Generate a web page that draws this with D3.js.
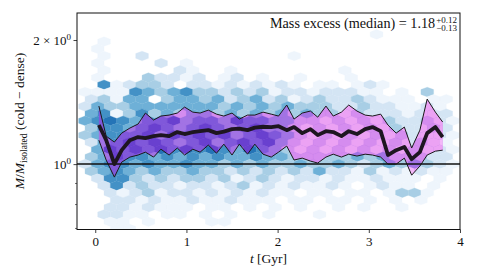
<!DOCTYPE html>
<html>
<head>
<meta charset="utf-8">
<script src="https://cdn.jsdelivr.net/npm/d3@7"></script>
<style>
  body { margin: 0; background: #fff; }
</style>
</head>
<body>
<svg id="chart" width="485" height="277"></svg>
<script>
// snapshot times [Gyr] and mass ratio percentiles
const times = [0.04, 0.12, 0.21, 0.29, 0.38, 0.47, 0.55, 0.64, 0.72, 0.81, 0.90, 0.98, 1.07, 1.15, 1.24,
  1.33, 1.41, 1.50, 1.58, 1.67, 1.75, 1.84, 1.93, 2.01, 2.10, 2.18, 2.27, 2.36, 2.44, 2.53,
  2.61, 2.70, 2.78, 2.87, 2.96, 3.04, 3.13, 3.21, 3.30, 3.39, 3.47, 3.56, 3.64, 3.73, 3.81];
const median = [1.244, 1.143, 1.000, 1.081, 1.143, 1.163, 1.156, 1.169, 1.176, 1.169,
  1.196, 1.183, 1.196, 1.202, 1.209, 1.189, 1.199, 1.216, 1.219, 1.209,
  1.226, 1.232, 1.230, 1.236, 1.209, 1.230, 1.189, 1.216, 1.176, 1.202,
  1.196, 1.169, 1.202, 1.183, 1.216, 1.230, 1.202, 1.052, 1.081, 1.100,
  1.028, 1.069, 1.189, 1.230, 1.163];
const upper = [1.383, 1.169, 1.131, 1.189, 1.223, 1.251, 1.330, 1.279, 1.308, 1.315,
  1.330, 1.375, 1.337, 1.330, 1.352, 1.322, 1.308, 1.330, 1.286, 1.315,
  1.315, 1.337, 1.322, 1.308, 1.391, 1.286, 1.330, 1.345, 1.300, 1.383,
  1.308, 1.337, 1.391, 1.345, 1.315, 1.308, 1.322, 1.244, 1.189, 1.230,
  1.094, 1.209, 1.438, 1.337, 1.265];
const lower = [1.143, 1.023, 0.930, 1.011, 1.040, 1.052, 1.069, 1.040, 1.087, 1.052,
  1.094, 1.052, 1.087, 1.069, 1.112, 1.063, 1.118, 1.052, 1.118, 1.057,
  1.118, 1.057, 1.040, 1.069, 1.106, 1.023, 1.034, 1.017, 1.006, 1.040,
  1.057, 1.040, 1.057, 1.046, 1.057, 1.052, 1.040, 1.000, 1.000, 1.034,
  0.940, 0.989, 1.052, 1.075, 1.081];

const xTicks = [0, 1, 2, 3, 4];
const yMajor = [1, 2];
const yMinor = [0.7, 0.8, 0.9];

// hexbin counts (levels 0-6), one string per row of hexagons, top row first
const hexGrid = { t0: -0.112, dt: 0.139, log0: 0.3148, dlog: 0.01748 };
const hexRows = [
  "000000000000000000000001000000",
  "01000000000000000000000000000",
  "010000000000000000000000000000",
  "01002000000000001000000000000",
  "010000201000000000000000000000",
  "01000002100100000000100000000",
  "010003221201201001000100000000",
  "05123320221212121011012100000",
  "111154345332323122122211010300",
  "23144034434234231232232111011",
  "243344444443434343332232211210",
  "45135343443434343433232221222",
  "456545564554655443323232322321",
  "35545654565456443232323232232",
  "345556465656456543232323232221",
  "24565654564565643232323232321",
  "046565656565465432323232323221",
  "34655454545445443333343433322",
  "245545445443434334334323434321",
  "34543433433232323242213121211",
  "025532323323123212212112111010",
  "02523221221231212112101211010",
  "002123122121212110110110133100",
  "00221211211211101101101010100",
  "002212111011010101001010010000",
  "02211011010100100010000000000",
  "001101000011000000000000000000",
  "00110000000000000000000000000"
];

const blues = ["#ffffff", "#eef5fc", "#d4e5f4", "#a8cee5", "#6eb0d7", "#4391c6", "#2474b7"];
const purples = ["#ffffff", "#f4b8f8", "#eca2f4", "#d58cef", "#a273e4", "#8058da", "#6940cf"];
const serif = "'Liberation Serif', 'DejaVu Serif', serif";

const svg = d3.select("#chart");
const x = d3.scaleLinear().domain([-0.2, 4.0]).range([77, 460]);
const y = d3.scaleLog().domain([0.694, 2.326]).range([229.5, 13]);

const defs = svg.append("defs");
defs.append("clipPath").attr("id", "plotClip")
  .append("rect").attr("x", 77).attr("y", 13).attr("width", 383).attr("height", 216.5);

const band = times.map((t, i) => ({ t: t, lo: lower[i], hi: upper[i], med: median[i] }));
const area = d3.area().x(d => x(d.t)).y0(d => y(d.lo)).y1(d => y(d.hi));
defs.append("clipPath").attr("id", "bandClip")
  .append("path").attr("d", area(band));

// build hex cells
const cells = [];
hexRows.forEach((row, r) => {
  const off = r % 2 ? hexGrid.dt / 2 : 0;
  row.split("").forEach((ch, c) => {
    const lvl = +ch;
    if (!lvl) return;
    cells.push({ t: hexGrid.t0 + off + c * hexGrid.dt, lg: hexGrid.log0 - r * hexGrid.dlog, lvl: lvl });
  });
});

const hexShape = [[0.5, -0.5], [0.5, 0.5], [0, 1], [-0.5, 0.5], [-0.5, -0.5], [0, -1]];
function hexPath(d) {
  return "M" + hexShape.map(([a, b]) =>
    [x(d.t + a * hexGrid.dt), y(Math.pow(10, d.lg + b * hexGrid.dlog * 2 / 3))].join(",")
  ).join("L") + "Z";
}

const plot = svg.append("g").attr("clip-path", "url(#plotClip)");

// background hexbin
plot.append("g").selectAll("path")
  .data(cells)
  .enter().append("path")
  .attr("d", hexPath)
  .attr("fill", d => blues[d.lvl])
  .attr("stroke", d => blues[d.lvl])
  .attr("stroke-width", 0.3);

// percentile band filled with purple hexes
const bandG = plot.append("g").attr("clip-path", "url(#bandClip)");
bandG.append("path").attr("d", area(band)).attr("fill", "#a576e4");
bandG.append("g").selectAll("path")
  .data(cells)
  .enter().append("path")
  .attr("d", hexPath)
  .attr("fill", d => purples[d.lvl])
  .attr("stroke", d => purples[d.lvl])
  .attr("stroke-width", 0.3);

const edge = key => d3.line().x(d => x(d.t)).y(d => y(d[key]));
plot.append("path").attr("d", edge("hi")(band))
  .attr("fill", "none").attr("stroke", "#1a1a1a").attr("stroke-width", 1);
plot.append("path").attr("d", edge("lo")(band))
  .attr("fill", "none").attr("stroke", "#1a1a1a").attr("stroke-width", 1);

// reference line at unity
plot.append("line")
  .attr("x1", 77).attr("x2", 460)
  .attr("y1", y(1)).attr("y2", y(1))
  .attr("stroke", "#111").attr("stroke-width", 1.5);

plot.append("path").attr("d", edge("med")(band))
  .attr("fill", "none").attr("stroke", "#1e1620").attr("stroke-width", 3.8)
  .attr("stroke-linejoin", "round");

// axes
const xAxis = svg.append("g")
  .attr("transform", "translate(0,229.5)")
  .call(d3.axisBottom(x).tickValues(xTicks).tickSize(3.5).tickPadding(4).tickFormat(d3.format("d")));
xAxis.select(".domain").remove();
xAxis.selectAll("line").attr("stroke", "#111").attr("stroke-width", 0.8);
xAxis.selectAll("text").attr("font-size", 13).attr("font-family", serif).attr("fill", "#111");

const yAxis = svg.append("g").attr("transform", "translate(77,0)")
  .call(d3.axisLeft(y).tickValues(yMajor).tickSize(3.5).tickFormat(""));
yAxis.select(".domain").remove();
yAxis.selectAll("line").attr("stroke", "#111").attr("stroke-width", 0.8);
const yMinorAxis = svg.append("g").attr("transform", "translate(77,0)")
  .call(d3.axisLeft(y).tickValues(yMinor).tickSize(2).tickFormat(""));
yMinorAxis.select(".domain").remove();
yMinorAxis.selectAll("line").attr("stroke", "#111").attr("stroke-width", 0.6);

// y tick labels with exponents
yMajor.forEach(v => {
  const t = svg.append("text")
    .attr("x", 71).attr("y", y(v) + 4.5)
    .attr("text-anchor", "end")
    .attr("font-family", serif).attr("font-size", 13).attr("fill", "#111");
  t.append("tspan").text(v === 1 ? "10" : "2 \u00d7 10");
  t.append("tspan").attr("dy", -5).attr("font-size", 9).text("0");
});

// frame
svg.append("rect")
  .attr("x", 77).attr("y", 13).attr("width", 383).attr("height", 216.5)
  .attr("fill", "none").attr("stroke", "#111").attr("stroke-width", 1);

// axis labels
const xl = svg.append("text")
  .attr("x", 268.5).attr("y", 263)
  .attr("text-anchor", "middle")
  .attr("font-family", serif).attr("font-size", 13.5).attr("fill", "#111");
xl.append("tspan").attr("font-style", "italic").text("t");
xl.append("tspan").text(" [Gyr]");

const yl = svg.append("text")
  .attr("transform", "translate(24,121) rotate(-90)")
  .attr("text-anchor", "middle")
  .attr("font-family", serif).attr("font-size", 13.5).attr("fill", "#111");
yl.append("tspan").attr("font-style", "italic").text("M");
yl.append("tspan").text("/");
yl.append("tspan").attr("font-style", "italic").text("M");
yl.append("tspan").attr("dy", 3).attr("font-size", 9.5).text("isolated");
yl.append("tspan").attr("dy", -3).text(" (cold \u2212 dense)");

// annotation, right aligned
const annRight = 457;
const ann = svg.append("text").attr("y", 27.5)
  .attr("font-family", serif).attr("font-size", 14.2).attr("fill", "#111")
  .text("Mass excess (median) = 1.18");
const sup = svg.append("text").attr("y", 22.5)
  .attr("font-family", serif).attr("font-size", 9).attr("fill", "#111").text("+0.12");
const sub = svg.append("text").attr("y", 31)
  .attr("font-family", serif).attr("font-size", 9).attr("fill", "#111").text("\u22120.13");
const scriptW = Math.max(sup.node().getComputedTextLength(), sub.node().getComputedTextLength());
const mainW = ann.node().getComputedTextLength();
const x0 = annRight - scriptW - mainW - 1;
ann.attr("x", x0);
sup.attr("x", x0 + mainW + 1);
sub.attr("x", x0 + mainW + 1);
</script>
</body>
</html>
